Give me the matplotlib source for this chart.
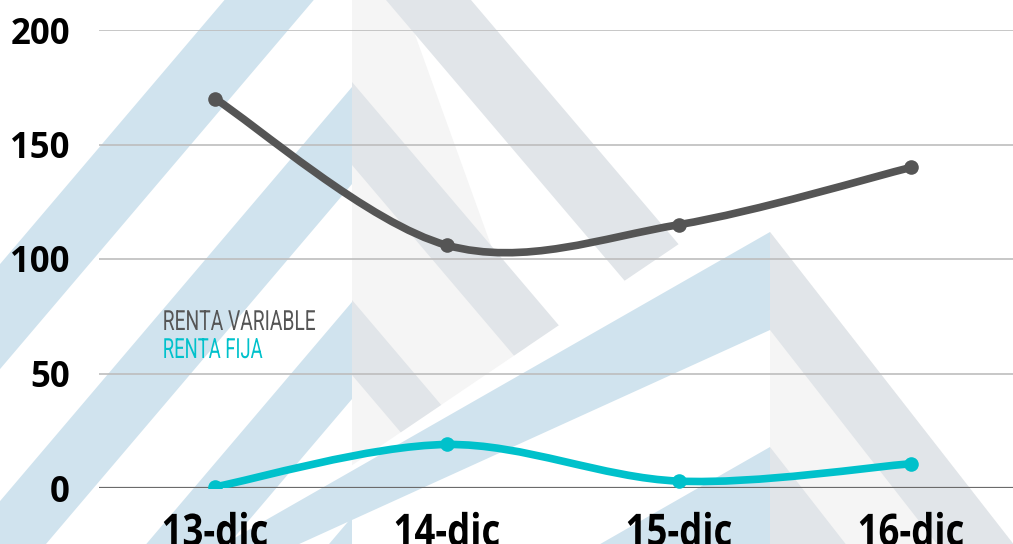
import matplotlib
matplotlib.use('Agg')
import numpy as np
import matplotlib.pyplot as plt
from matplotlib.path import Path
from matplotlib.patches import PathPatch, Polygon
from matplotlib.transforms import Affine2D
import matplotlib.patheffects as pe

# ---------------- data ----------------
categories = ['13-dic', '14-dic', '15-dic', '16-dic']
renta_variable = [170, 106, 115, 140]
renta_fija = [0.5, 19, 3, 10.6]
y_ticks = [0, 50, 100, 150, 200]
series_labels = ['RENTA VARIABLE', 'RENTA FIJA']

C_VAR = '#555555'
C_FIJA = '#00c1cb'

W, H = 1013, 544
fig = plt.figure(figsize=(W / 100, H / 100), dpi=100)
fig.patch.set_facecolor('white')


# horizontal squeeze path effect (text stays a Text artist, drawn condensed)
class Squeeze(pe.AbstractPathEffect):
    def __init__(self, sx, anchor='left'):
        super().__init__()
        self.sx = sx
        self.anchor = anchor

    def draw_path(self, renderer, gc, tpath, affine, rgbFace=None):
        ext = tpath.get_extents(affine)
        if self.anchor == 'left':
            a = ext.x0
        elif self.anchor == 'right':
            a = ext.x1
        else:
            a = 0.5 * (ext.x0 + ext.x1)
        aff = affine + Affine2D().translate(-a, 0).scale(self.sx, 1).translate(a, 0)
        renderer.draw_path(gc, tpath, aff, rgbFace)


# ---------------- watermark (decorative background) ----------------
bg = fig.add_axes([0, 0, 1, 1], zorder=0)
bg.set_xlim(0, W)
bg.set_ylim(H, 0)
bg.axis('off')

BLUE = '#d0e3ee'
GREYBLUE = '#e1e5e9'
LIGHT = '#f5f5f5'
FAR = 2000.0


def left_arm(x0, yu, yl, ku, kl):
    return [(x0, yu), (x0 - ku * FAR, yu + FAR), (x0 - kl * FAR, yl + FAR), (x0, yl)]


def right_arm(x0, yu, yl, ku, kl):
    return [(x0, yu), (x0 + ku * FAR, yu + FAR), (x0 + kl * FAR, yl + FAR), (x0, yl)]


# left logo
x0 = 352.0
kr = 0.85
cut = lambda x: 703.6 - 0.677 * x
yu1 = -140.0
xi = (703.6 + yu1 + x0 / kr) / (1 / kr + 0.677)
light_poly = Polygon([(x0, yu1), (xi, cut(xi)), (x0, cut(x0))], closed=True,
                     facecolor=LIGHT, edgecolor='none', transform=bg.transData)
bg.add_patch(light_poly)
clip_poly = Polygon([(x0, -600), (x0, cut(x0)), (1500, cut(1500)), (1500, -600)],
                    closed=True, transform=bg.transData, facecolor='none')
for yu, yl in [(-140, -40), (82, 165), (300, 375)]:
    p = Polygon(right_arm(x0, yu, yl, kr, kr), closed=True, facecolor=GREYBLUE,
                edgecolor='none', transform=bg.transData)
    bg.add_patch(p)
    p.set_clip_path(clip_poly)
for yu, yl in [(-150, -45), (87, 184), (302, 399), (517, 614)]:
    bg.add_patch(Polygon(left_arm(x0, yu, yl, 0.85, 0.85), closed=True,
                         facecolor=BLUE, edgecolor='none'))

# right logo
x1 = 770.0
bg.add_patch(Polygon(right_arm(x1, 232, 232 + FAR, 0.78, 0.0), closed=True,
                     facecolor=LIGHT, edgecolor='none'))
for yu, yl in [(232, 330), (447, 545)]:
    bg.add_patch(Polygon(right_arm(x1, yu, yl, 0.78, 0.78), closed=True,
                         facecolor=GREYBLUE, edgecolor='none'))
for yu, yl in [(232, 330), (447, 545)]:
    bg.add_patch(Polygon(left_arm(x1, yu, yl, 1.75, 2.2), closed=True,
                         facecolor=BLUE, edgecolor='none'))

# ---------------- chart ----------------
ax = fig.add_axes([99 / W, (H - 488) / H, (W - 99) / W, (488 - 30) / H], zorder=1)
ax.patch.set_visible(False)
xpos = np.arange(len(categories))
ax.set_xlim(-0.5, -0.5 + (W - 99) / 232.0)
ax.set_ylim(0, 200)
for s in ax.spines.values():
    s.set_visible(False)

ax.set_yticks(y_ticks)
ax.yaxis.grid(True, color='#bdbdbd', lw=1.2)
ax.set_axisbelow(True)
ax.axhline(0, color='#6b6b6b', lw=1.6, zorder=1.5)


def smooth_path(xs, ys):
    pts = np.column_stack([xs, ys]).astype(float)
    n = len(pts)
    verts = [pts[0]]
    codes = [Path.MOVETO]
    for i in range(n - 1):
        p0 = pts[max(i - 1, 0)]
        p1 = pts[i]
        p2 = pts[i + 1]
        p3 = pts[min(i + 2, n - 1)]
        verts += [p1 + (p2 - p0) / 6.0, p2 - (p3 - p1) / 6.0, p2]
        codes += [Path.CURVE4] * 3
    return Path(verts, codes)


for vals, col in [(renta_variable, C_VAR), (renta_fija, C_FIJA)]:
    ax.add_patch(PathPatch(smooth_path(xpos, vals), facecolor='none', edgecolor=col,
                           lw=5.5, capstyle='round', joinstyle='round', zorder=3))
    ax.plot(xpos, vals, 'o', color=col, ms=10.5, mew=0, zorder=4)

ax.set_xticks(xpos, categories)
ax.tick_params(axis='x', length=0, pad=17, labelsize=32, colors='black')
ax.tick_params(axis='y', length=0, pad=21, labelsize=25, colors='black')
for lbl in ax.get_xticklabels() + ax.get_yticklabels():
    lbl.set_fontfamily('Open Sans')
    lbl.set_fontweight('bold')

# legend texts
t1 = fig.text(162 / W, 1 - 330 / H, series_labels[0], fontsize=20, family='Roboto',
              fontweight='normal', color=C_VAR, va='baseline', ha='left')
t2 = fig.text(162 / W, 1 - 358 / H, series_labels[1], fontsize=20, family='Roboto',
              fontweight='normal', color=C_FIJA, va='baseline', ha='left')

fig.canvas.draw()
r = fig.canvas.get_renderer()
w1 = t1.get_window_extent(r).width
w2 = t2.get_window_extent(r).width
t1.set_path_effects([Squeeze(153.0 / w1, 'left')])
t2.set_path_effects([Squeeze(100.0 / w2, 'left')])
xl = ax.get_xticklabels()
wx = xl[0].get_window_extent(r).width
for lbl in xl:
    lbl.set_path_effects([Squeeze(107.0 / wx, 'center')])

fig.savefig('out.png', dpi=100, facecolor='white')
